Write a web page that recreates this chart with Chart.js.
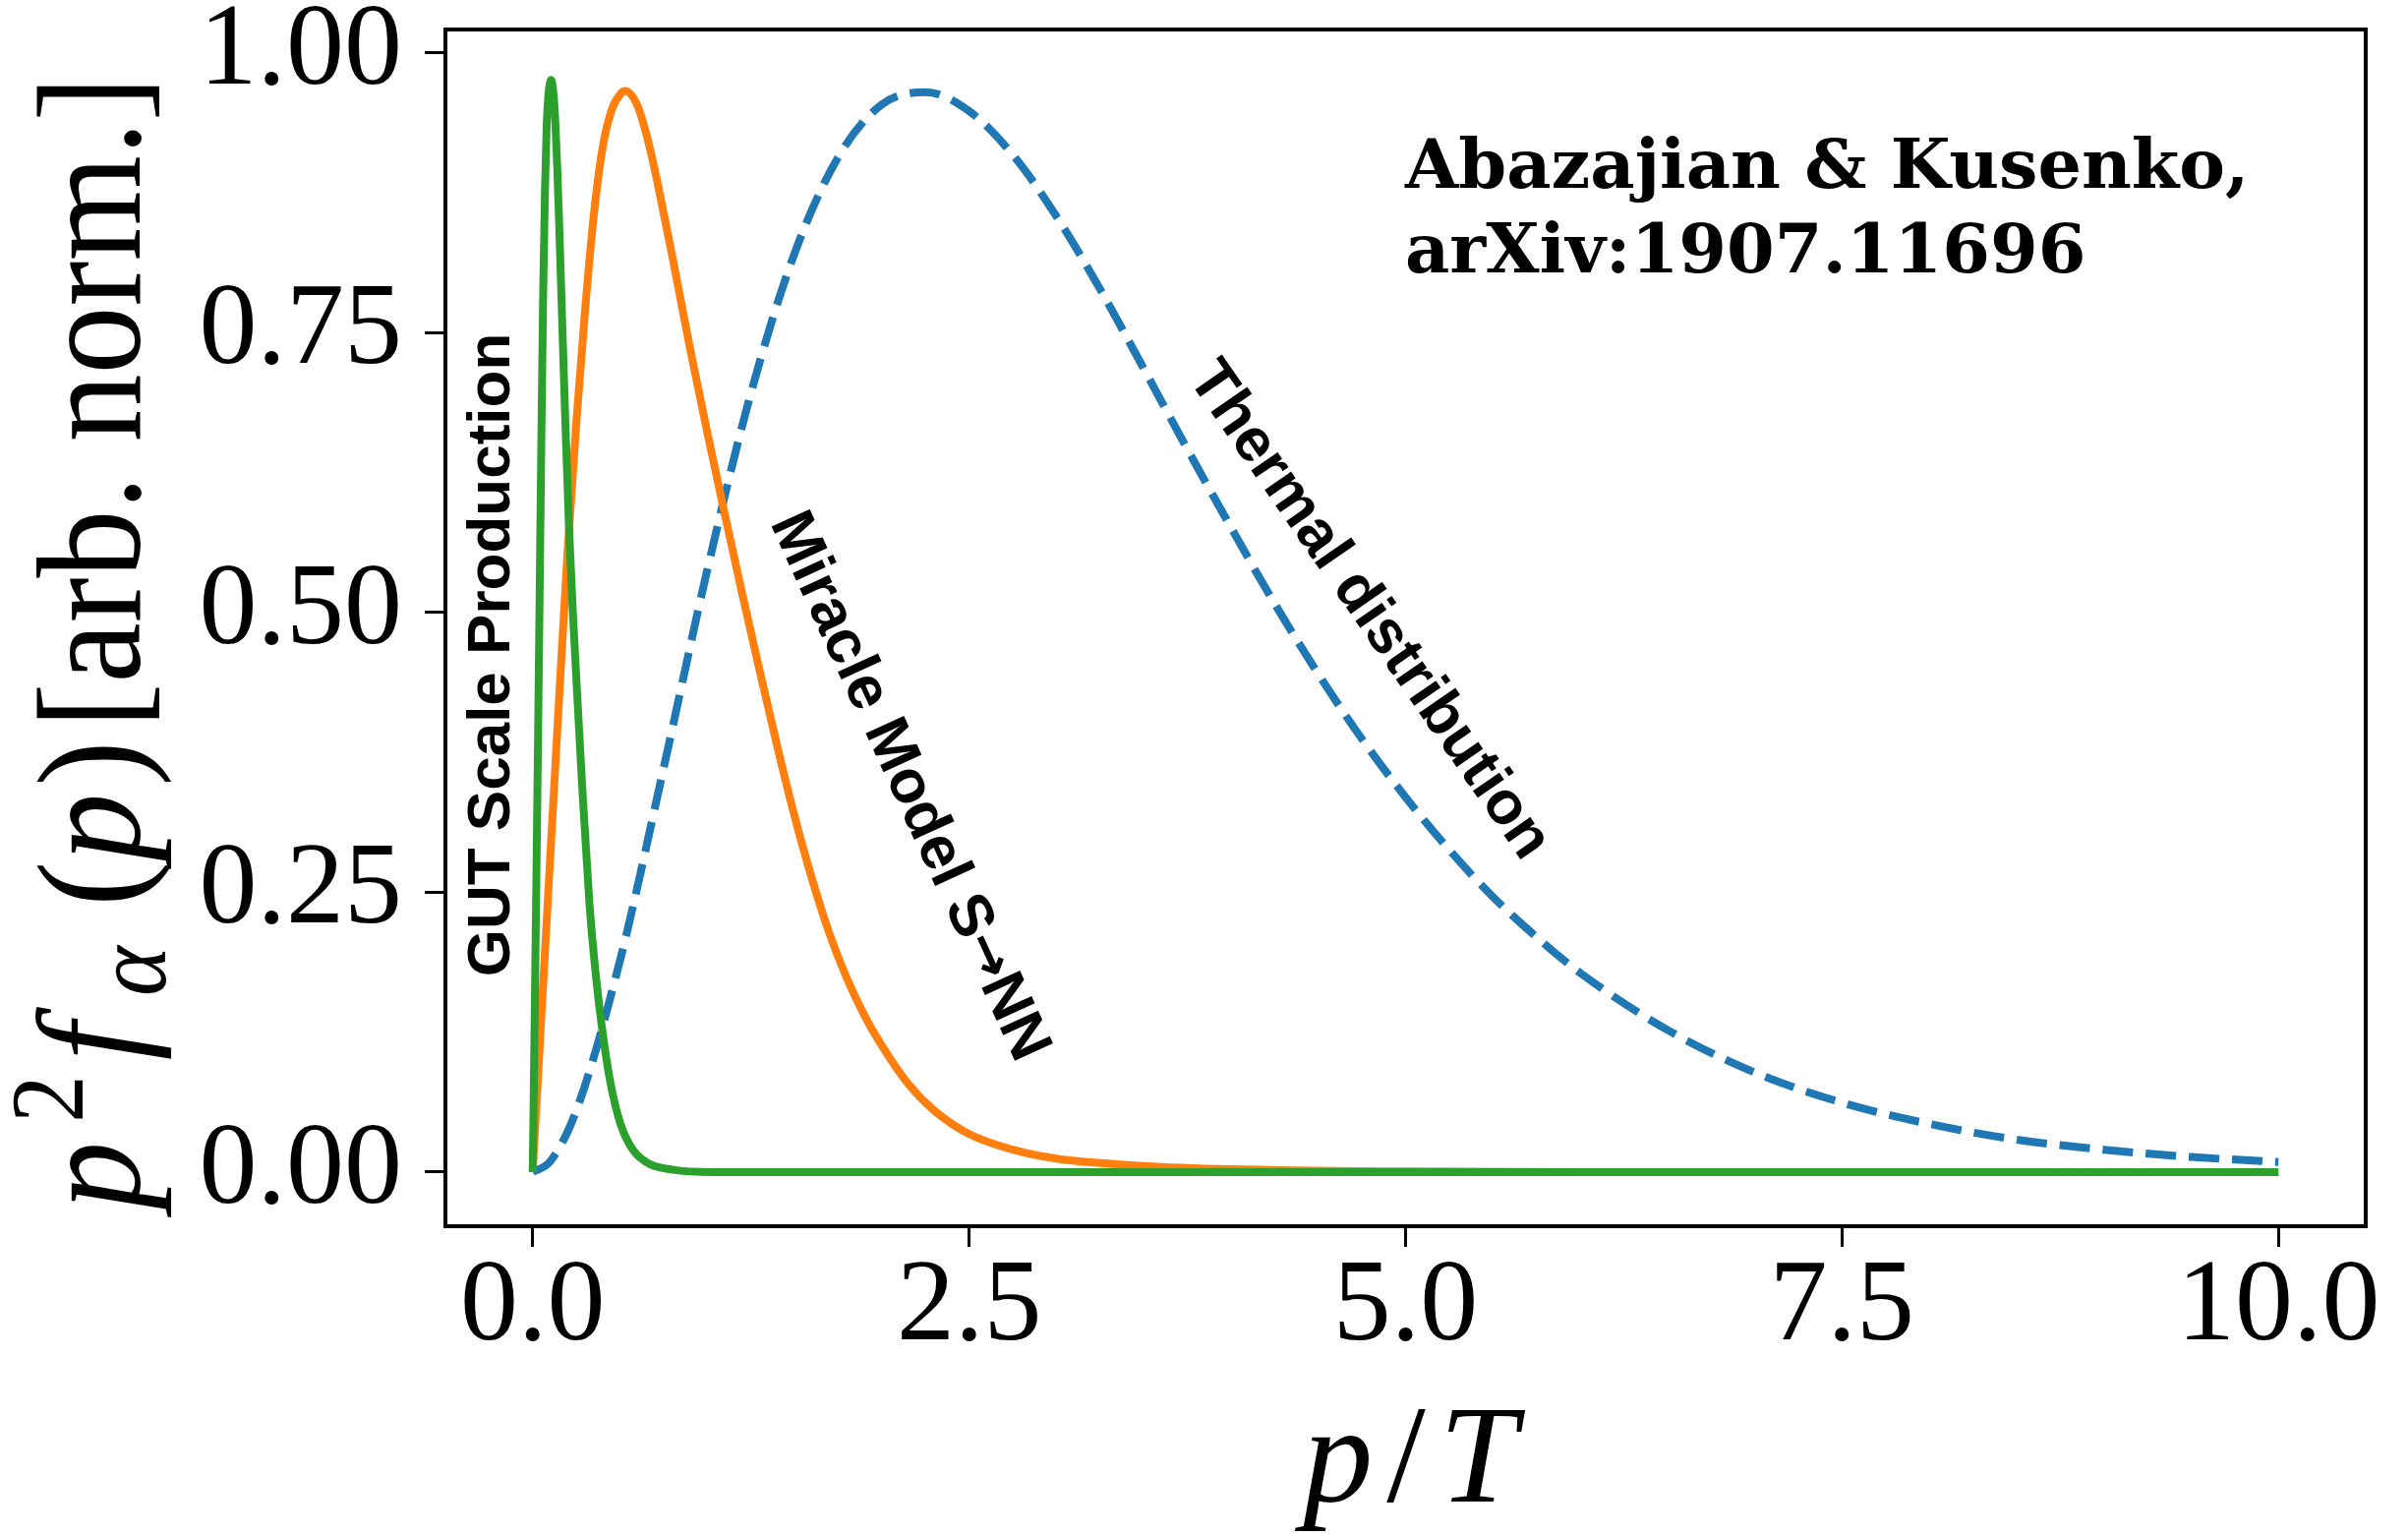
<!DOCTYPE html>
<html>
<head>
<meta charset="utf-8">
<script src="https://cdn.jsdelivr.net/npm/chart.js@4.4.1/dist/chart.umd.min.js"></script>
<style>
  html, body { margin: 0; padding: 0; background: #fff; }
  canvas { display: block; }
</style>
</head>
<body>
<canvas id="chart" width="2449" height="1560"></canvas>
<script>
// tick values
const xTicks = [0, 2.5, 5, 7.5, 10];
const yTicks = [0, 0.25, 0.5, 0.75, 1.0];

// thermal distribution (blue, dashed)
const thermalX = [0, 0.1, 0.25, 0.5, 0.75, 1.0, 1.25, 1.5, 1.75, 2.0, 2.25, 2.5, 2.75, 3.0, 3.25, 3.5, 3.75, 4.0,
  4.25, 4.5, 4.75, 5.0, 5.25, 5.5, 5.75, 6.0, 6.5, 7.0, 7.5, 8.0, 8.5, 9.0, 9.5, 10.0];
const thermalY = [0, 0.0095, 0.055, 0.189, 0.361, 0.538, 0.696, 0.821, 0.907, 0.954, 0.965, 0.948, 0.909, 0.854,
  0.789, 0.718, 0.646, 0.576, 0.508, 0.445, 0.387, 0.335, 0.288, 0.246, 0.210, 0.178, 0.127, 0.089, 0.062, 0.043,
  0.029, 0.020, 0.0135, 0.009];

// miracle model S -> NN (orange)
const miracleX = [0, 0.05, 0.1, 0.15, 0.2, 0.25, 0.3, 0.35, 0.4, 0.45, 0.5, 0.53, 0.6, 0.65, 0.7, 0.75, 0.8, 0.9,
  1.0, 1.1, 1.2, 1.3, 1.4, 1.5, 1.6, 1.7, 1.8, 1.9, 2.0, 2.15, 2.3, 2.5, 2.75, 3.0, 3.5, 4.0, 5.0, 6.0, 10.0];
const miracleY = [0, 0.14, 0.28, 0.42, 0.555, 0.67, 0.77, 0.855, 0.915, 0.948, 0.963, 0.966, 0.953, 0.928, 0.895,
  0.857, 0.818, 0.737, 0.661, 0.588, 0.517, 0.448, 0.381, 0.318, 0.262, 0.213, 0.173, 0.14, 0.113, 0.079, 0.055,
  0.034, 0.02, 0.012, 0.0055, 0.0025, 0.0005, 0, 0];

// GUT scale production (green)
const gutX = [0, 0.01, 0.02, 0.03, 0.04, 0.05, 0.06, 0.07, 0.08, 0.09, 0.1, 0.106, 0.112, 0.12, 0.13, 0.14, 0.15,
  0.167, 0.187, 0.207, 0.23, 0.259, 0.287, 0.325, 0.359, 0.396, 0.445, 0.503, 0.575, 0.661, 0.804, 1.03, 2.0, 10.0];
const gutY = [0, 0.12, 0.25, 0.38, 0.52, 0.66, 0.785, 0.875, 0.935, 0.963, 0.974, 0.976, 0.973, 0.962, 0.937, 0.9,
  0.855, 0.77, 0.67, 0.58, 0.5, 0.415, 0.335, 0.24, 0.18, 0.13, 0.08, 0.043, 0.0196, 0.0079, 0.002, 0, 0, 0];

const curveLabels = ["GUT Scale Production", "Miracle Model S\u2192NN", "Thermal distribution"];
const citation = ["Abazajian & Kusenko,", "arXiv:1907.11696"];

function pts(xs, ys) {
  return xs.map((x, i) => ({ x: x, y: ys[i] }));
}

const serif = '"Liberation Serif", "Times New Roman", serif';
const sansBold = 'bold 62px "Liberation Sans", Arial, sans-serif';

function drawYTitle(ctx) {
  const S = 150;
  const sub = Math.round(S * 0.7);
  const runs = [
    { t: "p", f: `italic ${S}px ${serif}`, at: 0, dy: 0 },
    { t: "2", f: `${sub}px ${serif}`, at: 96, dy: -58 },
    { t: "f", f: `italic ${S}px ${serif}`, at: 165, dy: 0 },
    { t: "\u03b1", f: `italic ${sub}px ${serif}`, at: 236, dy: 26 },
    { t: "(", f: `${S}px ${serif}`, at: 335, dy: 0 },
    { t: "p", f: `italic ${S}px ${serif}`, at: 385, dy: 0 },
    { t: ")", f: `${S}px ${serif}`, at: 468, dy: 0 },
    { t: "[arb. norm.]", f: `${S}px ${serif}`, at: 532, dy: 0 },
  ];
  ctx.save();
  ctx.translate(142, 1230);
  ctx.rotate(-Math.PI / 2);
  ctx.scale(0.92, 1);
  ctx.fillStyle = "#000";
  ctx.textAlign = "left";
  ctx.textBaseline = "alphabetic";
  runs.forEach((r) => {
    ctx.font = r.f;
    ctx.fillText(r.t, r.at, r.dy);
  });
  ctx.restore();
}

function drawXTitle(ctx) {
  const it = `italic 142px ${serif}`;
  const up = `142px ${serif}`;
  const gap = 14;
  ctx.save();
  ctx.fillStyle = "#000";
  ctx.textBaseline = "alphabetic";
  ctx.textAlign = "left";
  ctx.font = it;
  const wp = ctx.measureText("p").width;
  const wT = ctx.measureText("T").width;
  ctx.font = up;
  const ws = ctx.measureText("/").width;
  let x = 1434 - (wp + ws + wT + 2 * gap) / 2;
  const y = 1527;
  ctx.font = it;
  ctx.fillText("p", x, y);
  x += wp + gap;
  ctx.font = up;
  ctx.fillText("/", x, y);
  x += ws + gap;
  ctx.font = it;
  ctx.fillText("T", x, y);
  ctx.restore();
}

// draws a rotated label made of runs (text, font), centred on (cx, cy)
function drawRotated(ctx, runs, cx, cy, deg) {
  ctx.save();
  ctx.translate(cx, cy);
  ctx.rotate((deg * Math.PI) / 180);
  ctx.fillStyle = "#000";
  ctx.textAlign = "left";
  ctx.textBaseline = "middle";
  let total = 0;
  runs.forEach((r) => {
    ctx.font = r.f;
    r.w = ctx.measureText(r.t).width;
    total += r.w;
  });
  let x = -total / 2;
  runs.forEach((r) => {
    ctx.font = r.f;
    ctx.fillText(r.t, x, 0);
    x += r.w;
  });
  ctx.restore();
}

const decor = {
  id: "decor",
  afterDatasetsDraw(chart) {
    const { ctx, chartArea: a } = chart;
    ctx.save();
    ctx.strokeStyle = "#000";
    ctx.lineWidth = 4;
    ctx.strokeRect(a.left, a.top, a.right - a.left, a.bottom - a.top);
    ctx.restore();
  },
  afterDraw(chart) {
    const ctx = chart.ctx;
    drawYTitle(ctx);
    drawXTitle(ctx);

    drawRotated(ctx, [{ t: curveLabels[0], f: sansBold }], 501, 666, -90);
    const parts = curveLabels[1].split("\u2192");
    drawRotated(ctx, [
      { t: parts[0], f: sansBold },
      { t: "\u2192", f: 'bold 56px "DejaVu Sans", sans-serif' },
      { t: parts[1], f: sansBold },
    ], 924, 800, 65.5);
    drawRotated(ctx, [{ t: curveLabels[2], f: sansBold }], 1392, 621, 55.3);

    ctx.save();
    ctx.fillStyle = "#000";
    ctx.textAlign = "left";
    ctx.textBaseline = "alphabetic";
    ctx.font = 'bold 70px "DejaVu Serif", serif';
    ctx.fillText(citation[0], 1429, 191);
    ctx.fillText(citation[1], 1429, 277);
    ctx.restore();
  },
};

const tickFont = { family: serif, size: 118, lineHeight: 1 };

new Chart(document.getElementById("chart"), {
  type: "line",
  data: {
    datasets: [
      {
        label: "GUT Scale Production",
        data: pts(gutX, gutY),
        borderColor: "#2ca02c",
        borderWidth: 8,
        pointRadius: 0,
        cubicInterpolationMode: "monotone",
      },
      {
        label: "Miracle Model",
        data: pts(miracleX, miracleY),
        borderColor: "#ff7f0e",
        borderWidth: 8,
        pointRadius: 0,
        cubicInterpolationMode: "monotone",
      },
      {
        label: "Thermal distribution",
        data: pts(thermalX, thermalY),
        borderColor: "#1f77b4",
        borderWidth: 8,
        borderDash: [31, 13],
        pointRadius: 0,
        cubicInterpolationMode: "monotone",
      },
    ],
  },
  options: {
    responsive: false,
    animation: false,
    devicePixelRatio: 1,
    layout: { padding: { top: 30, right: 43, left: 0, bottom: 0 } },
    plugins: { legend: { display: false }, tooltip: { enabled: false } },
    scales: {
      x: {
        type: "linear",
        min: -0.5,
        max: 10.5,
        afterBuildTicks: (s) => { s.ticks = xTicks.map((v) => ({ value: v })); },
        afterFit: (s) => {
          s.height = 313;
          s.paddingLeft = 0;
          s.paddingRight = 0;
        },
        border: { display: false },
        grid: { drawOnChartArea: false, drawTicks: true, tickLength: 21, tickWidth: 3, tickColor: "#000" },
        ticks: {
          font: tickFont,
          color: "#000",
          padding: 4,
          maxRotation: 0,
          autoSkip: false,
          callback: (v) => Number(v).toFixed(1),
        },
      },
      y: {
        type: "linear",
        min: -0.0484,
        max: 1.021,
        afterBuildTicks: (s) => { s.ticks = yTicks.map((v) => ({ value: v })); },
        afterFit: (s) => {
          s.width = 453;
          s.paddingTop = 0;
          s.paddingBottom = 0;
        },
        border: { display: false },
        grid: { drawOnChartArea: false, drawTicks: true, tickLength: 21, tickWidth: 3, tickColor: "#000" },
        ticks: {
          font: tickFont,
          color: "#000",
          padding: 23,
          autoSkip: false,
          callback: (v) => Number(v).toFixed(2),
        },
      },
    },
  },
  plugins: [decor],
});
</script>
</body>
</html>
